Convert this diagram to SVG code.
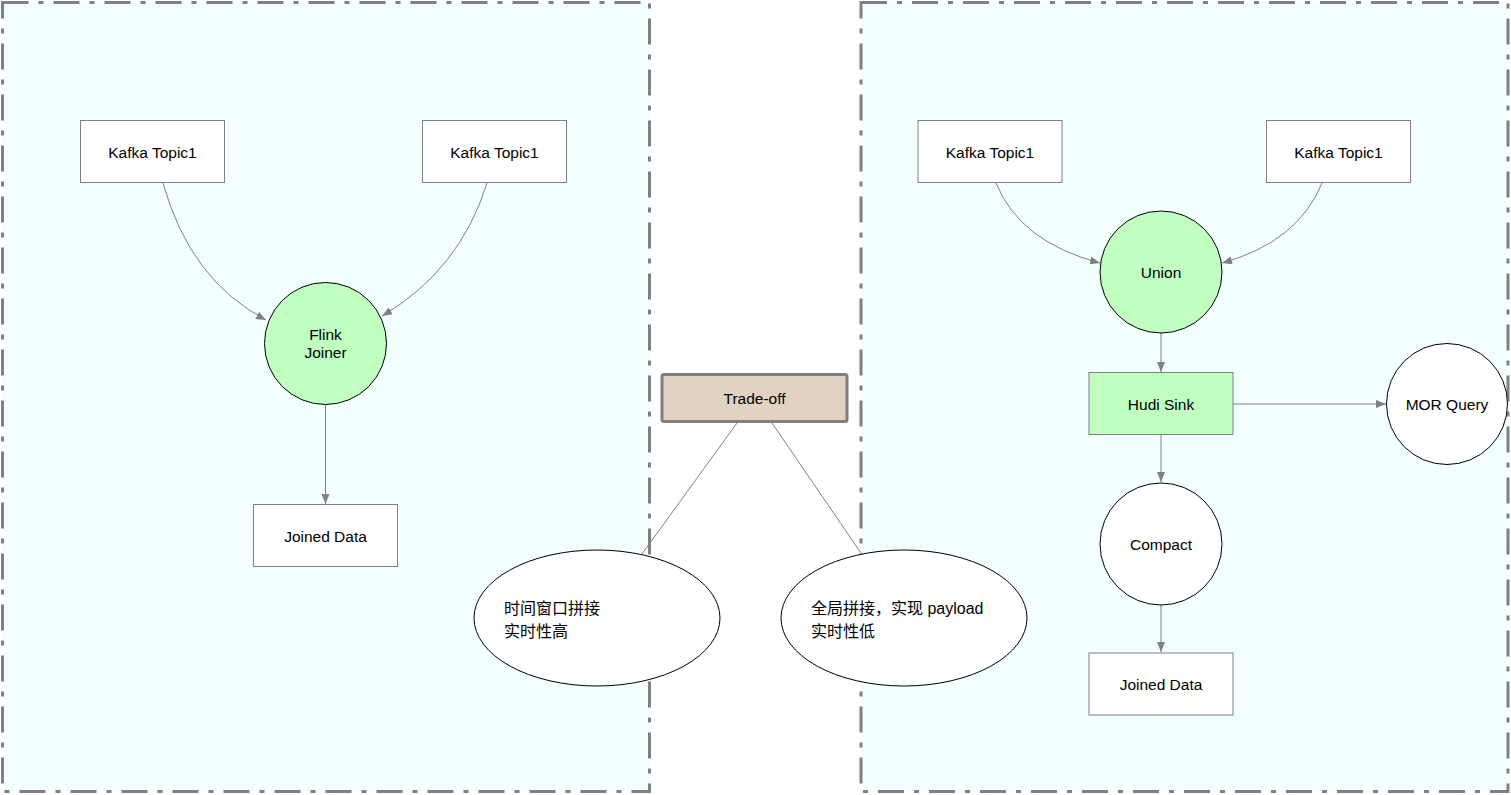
<svg xmlns="http://www.w3.org/2000/svg" width="1511" height="795" viewBox="0 0 1511 795">
<defs>
<style>
.container{fill:#f3fefe;stroke:#808080;stroke-width:3;stroke-dasharray:26 10 5 10}
.box{fill:#ffffff;stroke:#808080;stroke-width:1}
.green{fill:#c0ffc0;stroke:#808080;stroke-width:1}
.circ{stroke:#000000;stroke-width:1}
.gcirc{fill:#c0ffc0}
.wcirc{fill:#ffffff}
.trade{fill:#e1d2c1;stroke:#808080;stroke-width:3}
.ell{fill:#ffffff;stroke:#000000;stroke-width:1}
.t{font-family:"Liberation Sans",Arial,Helvetica,sans-serif;font-size:15.5px;fill:#000000;text-anchor:middle}
.cn{font-family:"Liberation Sans",Arial,"Noto Sans CJK SC",sans-serif;font-size:16px;fill:#000000}
.edge{fill:none;stroke:#808080;stroke-width:1}
</style>
<marker id="arrow" viewBox="0 0 10 8" refX="10" refY="4" markerWidth="10" markerHeight="8" markerUnits="userSpaceOnUse" orient="auto">
<path d="M0,0 L10,4 L0,8 z" fill="#808080"/>
</marker>
</defs>
<rect x="0" y="0" width="1511" height="795" fill="#ffffff"/>
<g id="containers">
<rect class="container" x="2.5" y="2.5" width="647" height="789"/>
<rect class="container" x="861" y="2.5" width="647" height="789"/>
</g>
<g id="connectors">
<path class="edge" d="M163,183 Q190,280 266,320" marker-end="url(#arrow)"/>
<path class="edge" d="M487,183 Q460,270 382,316" marker-end="url(#arrow)"/>
<path class="edge" d="M325.5,405 L325.5,504" marker-end="url(#arrow)"/>
<path class="edge" d="M996,183 Q1020,242 1100,263" marker-end="url(#arrow)"/>
<path class="edge" d="M1322,183 Q1298,242 1222,263" marker-end="url(#arrow)"/>
<path class="edge" d="M1161,333 L1161,372" marker-end="url(#arrow)"/>
<path class="edge" d="M1161,435 L1161,482" marker-end="url(#arrow)"/>
<path class="edge" d="M1161,605 L1161,652" marker-end="url(#arrow)"/>
<path class="edge" d="M1233,404 L1386,404" marker-end="url(#arrow)"/>
<path class="edge" d="M737,423 L642,554"/>
<path class="edge" d="M772,423 L861,553"/>
</g>
<g id="kafka-l1">
<rect class="box" x="80.5" y="120.5" width="144" height="62"/>
<text class="t" x="152.5" y="158">Kafka Topic1</text>
</g>
<g id="kafka-l2">
<rect class="box" x="422.5" y="120.5" width="144" height="62"/>
<text class="t" x="494.5" y="158">Kafka Topic1</text>
</g>
<g id="flink-joiner">
<circle class="circ gcirc" cx="325.5" cy="343.5" r="61"/>
<text class="t" x="325.5" y="340">Flink</text>
<text class="t" x="325.5" y="358">Joiner</text>
</g>
<g id="joined-l">
<rect class="box" x="253.5" y="504.5" width="144" height="62"/>
<text class="t" x="325.5" y="541.5">Joined Data</text>
</g>
<g id="kafka-r1">
<rect class="box" x="918" y="120.5" width="144" height="62"/>
<text class="t" x="990" y="158">Kafka Topic1</text>
</g>
<g id="kafka-r2">
<rect class="box" x="1266.5" y="120.5" width="144" height="62"/>
<text class="t" x="1338.5" y="158">Kafka Topic1</text>
</g>
<g id="union">
<circle class="circ gcirc" cx="1161" cy="272" r="61"/>
<text class="t" x="1161" y="277.5">Union</text>
</g>
<g id="hudi-sink">
<rect class="green" x="1089" y="372.5" width="144" height="62"/>
<text class="t" x="1161" y="409.5">Hudi Sink</text>
</g>
<g id="mor-query">
<circle class="circ wcirc" cx="1447" cy="404" r="60.5"/>
<text class="t" x="1447" y="409.5">MOR Query</text>
</g>
<g id="compact">
<circle class="circ wcirc" cx="1161" cy="544" r="61"/>
<text class="t" x="1161" y="549.5">Compact</text>
</g>
<g id="joined-r">
<rect class="box" x="1089" y="653" width="144" height="62"/>
<text class="t" x="1161" y="690">Joined Data</text>
</g>
<g id="trade-off">
<rect class="trade" x="662" y="374.5" width="185" height="47" rx="2"/>
<text class="t" x="754.5" y="403.5">Trade-off</text>
</g>
<g id="left-note">
<ellipse class="ell" cx="597" cy="618" rx="123" ry="68"/>
<text class="cn" x="504" y="614">时间窗口拼接</text>
<text class="cn" x="504" y="637">实时性高</text>
</g>
<g id="right-note">
<ellipse class="ell" cx="904" cy="618" rx="123" ry="68"/>
<text class="cn" x="811" y="614">全局拼接，实现 payload</text>
<text class="cn" x="811" y="637">实时性低</text>
</g>
</svg>
